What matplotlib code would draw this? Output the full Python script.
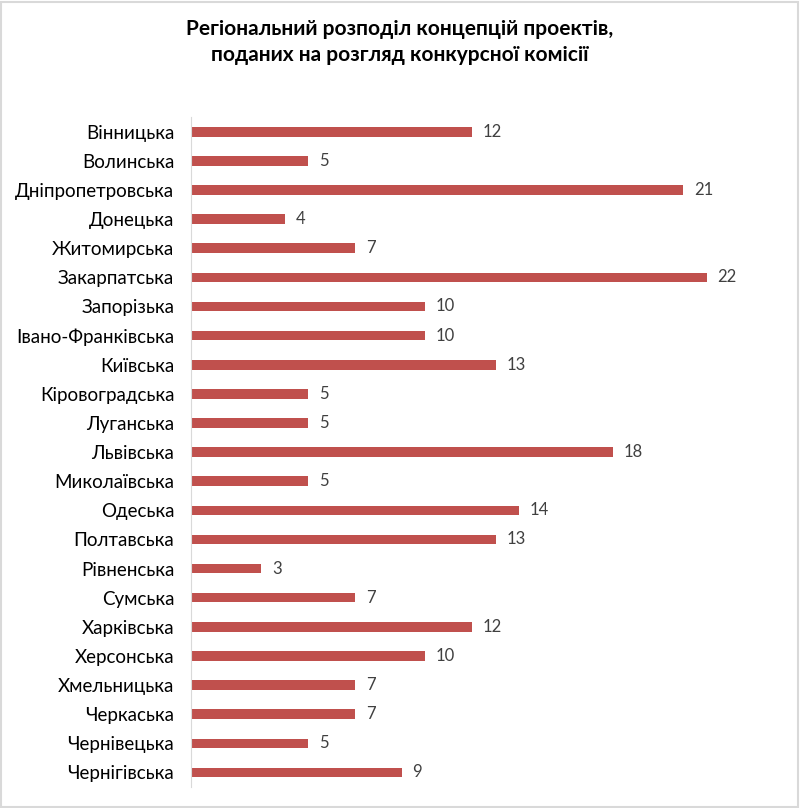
import matplotlib.pyplot as plt
from matplotlib.patches import Rectangle

plt.rcParams['font.family'] = ['Lato', 'DejaVu Sans']

regions = ["Вінницька", "Волинська", "Дніпропетровська", "Донецька", "Житомирська",
           "Закарпатська", "Запорізька", "Івано-Франківська", "Київська", "Кіровоградська",
           "Луганська", "Львівська", "Миколаївська", "Одеська", "Полтавська",
           "Рівненська", "Сумська", "Харківська", "Херсонська", "Хмельницька",
           "Черкаська", "Чернівецька", "Чернігівська"]
counts = [12, 5, 21, 4, 7, 22, 10, 10, 13, 5, 5, 18, 5, 14, 13, 3, 7, 12, 10, 7, 7, 5, 9]

fig = plt.figure(figsize=(8, 8.08), dpi=100)
ax = fig.add_axes([0.23875, 0.026, 0.7325, 0.829])

pos = list(range(len(regions)))
bars = ax.barh(pos, counts, height=0.33, color="#C0504D")
ax.set_yticks(pos)
ax.set_yticklabels(regions, fontsize=13.5, color="#000000")
ax.set_ylim(len(regions) - 0.5, -0.5)
ax.set_xlim(0, 25)
ax.set_xticks([])
ax.tick_params(axis='y', length=0, pad=12)

for b, v in zip(bars, counts):
    ax.text(b.get_width() + 0.45, b.get_y() + b.get_height() / 2, str(v),
            va='center', ha='left', fontsize=12, color="#404040")

for s in ['top', 'right', 'bottom']:
    ax.spines[s].set_visible(False)
ax.spines['left'].set_color("#D9D9D9")

fig.text(0.5, 0.976, "Регіональний розподіл концепцій проектів,\nподаних на розгляд конкурсної комісії",
         ha='center', va='top', fontsize=15, fontweight='bold', linespacing=1.35)

# chart border
fig.patches.append(Rectangle((0.001, 0.001), 0.997, 0.997, transform=fig.transFigure,
                             fill=False, edgecolor="#D9D9D9", linewidth=1.5))

fig.savefig("out.png", dpi=100)
